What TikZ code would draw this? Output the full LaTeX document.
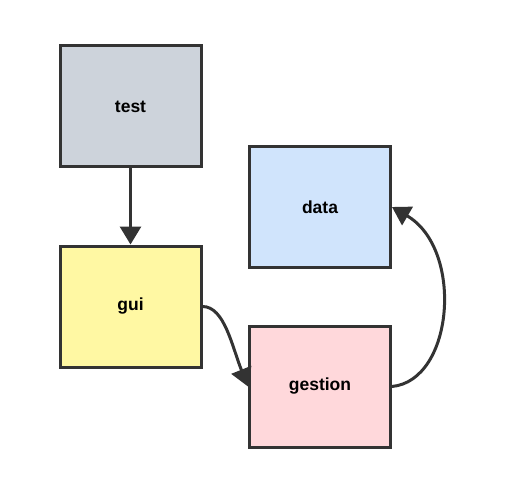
\documentclass[tikz,border=0pt]{standalone}
\usepackage{fontspec}
\setmainfont{Liberation Sans}
\usetikzlibrary{arrows.meta}
\definecolor{edge}{HTML}{333333}
\definecolor{ctest}{HTML}{CDD3DB}
\definecolor{cdata}{HTML}{D0E4FC}
\definecolor{cgui}{HTML}{FFF8A3}
\definecolor{cgestion}{HTML}{FFD8DB}
\tikzset{
  box/.style={draw=edge, line width=3pt, minimum width=141pt, minimum height=121pt, inner sep=0pt,
    font=\fontsize{17.5}{20}\selectfont\bfseries, text=black},
  link/.style={draw=edge, line width=3pt, -{Triangle[width=21pt,length=18pt]}}
}
\begin{document}
\begin{tikzpicture}[x=1pt,y=-1pt]
\useasboundingbox (0,0) rectangle (510,494);
\node[box, fill=ctest] (test) at (130.5,106.5) {test};
\node[box, fill=cdata] (data) at (320,207) {data};
\node[box, fill=cgui] (gui) at (130.5,306.5) {gui};
\node[box, fill=cgestion] (gestion) at (320,386.5) {gestion};
\draw[link] (test.south) -- (gui.north);
\draw[link] (gui.east) .. controls +(22,0) and +(-16,-40) .. (gestion.west);
\draw[link] (gestion.east) .. controls +(62,-6) and +(72,42) .. (data.east);
\end{tikzpicture}
\end{document}
